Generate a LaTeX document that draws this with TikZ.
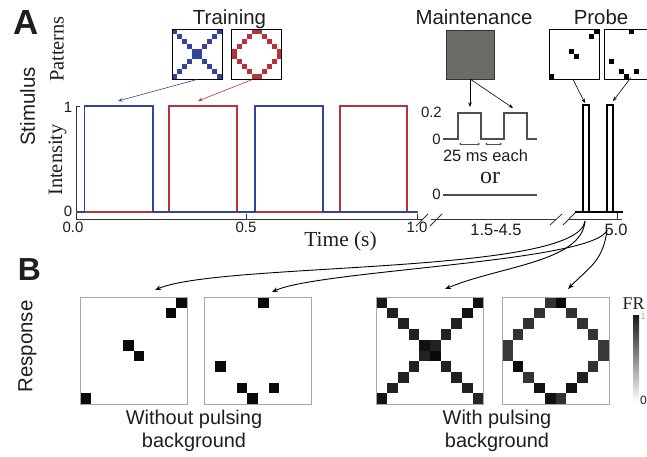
\documentclass[tikz,border=0pt]{standalone}
\usepackage{fontspec}
\setmainfont{Liberation Serif}
\setsansfont{Liberation Sans}
\usetikzlibrary{arrows.meta,calc}
\definecolor{pblue}{HTML}{34449A}
\definecolor{pred}{HTML}{B8323A}
\definecolor{txt}{HTML}{1E1E1E}
\definecolor{mgray}{HTML}{6B6C68}
\definecolor{wave}{HTML}{505050}
\definecolor{axc}{HTML}{333333}
\definecolor{orng}{HTML}{D9A066}
\def\Xlist{0/0,9/0,1/1,8/1,2/2,7/2,3/3,6/3,4/4,5/4,4/5,5/5,3/6,6/6,2/7,7/7,1/8,8/8,0/9,9/9}
\def\Dlist{4/0,5/0,3/1,6/1,2/2,7/2,1/3,8/3,0/4,9/4,0/5,9/5,1/6,8/6,2/7,7/7,3/8,6/8,4/9,5/9}
\newcommand\drawcells[4]{\foreach \pcx/\pcy in #4 {\fill[#3] ($(#1.north west)+(\pcx*#2,\pcy*#2)$) rectangle ++(#2,#2);}}
\newcommand\shadecells[3]{\foreach \pcx/\pcy/\pcs in {#3} {\fill[black!\pcs] ($(#1.north west)+(\pcx*#2,\pcy*#2)$) rectangle ++(#2,#2);}}
\tikzset{
 lab/.style={font=\sffamily\fontsize{20.5}{24}\selectfont, text=txt, inner sep=0},
 slab/.style={font=\rmfamily\fontsize{20.5}{24}\selectfont, text=txt, inner sep=0},
 ticklab/.style={font=\sffamily\fontsize{15}{18}\selectfont, text=txt, inner sep=0},
 patbox/.style={draw=black, line width=0.9bp, minimum width=50bp, minimum height=50bp, inner sep=0, outer sep=0, fill=white},
 gridbox/.style={draw=gray!70, line width=0.7bp, minimum size=107bp, inner sep=0, outer sep=0, fill=white},
 arr/.style={-{Stealth[length=4.5bp,width=3.5bp]}, line width=0.6bp},
 carr/.style={-{Stealth[length=6bp,width=4.5bp]}, line width=0.9bp, black},
 dblarr/.style={{Stealth[length=2.5bp,width=2.5bp]}-{Stealth[length=2.5bp,width=2.5bp]}, line width=0.5bp, wave},
 axisline/.style={draw=axc, line width=0.8bp},
 pulse/.style={line width=1.5bp, line join=miter},
}
\begin{document}
\begin{tikzpicture}[x=1bp,y=-1bp]
\useasboundingbox (0,0) rectangle (647,457);
\clip (0,0) rectangle (647,457);
% panel letters
\node[font=\sffamily\bfseries\fontsize{35}{40}\selectfont, inner sep=0, text=txt] (lA) at (26.5,22.5) {A};
\node[font=\sffamily\bfseries\fontsize{32}{36}\selectfont, inner sep=0, text=txt] (lB) at (29.5,269.5) {B};
% headings
\node[lab, anchor=base] (train) at (229.5,25) {Training};
\node[lab, anchor=base] (maintl) at (474,25) {Maintenance};
\node[lab, anchor=base] (probel) at (601,25) {Probe};
\node[slab, rotate=90] (patl) at (57,49) {Patterns};
\node[lab, rotate=90] (stim) at (27.5,106.5) {Stimulus};
\node[slab, rotate=90] (intl) at (57.5,160) {Intensity};
\node[lab, rotate=90] (resp) at (27.5,346.5) {Response};
% training patterns
\node[patbox] (tX) at (197,54.5) {};
\drawcells{tX}{5}{pblue}{\Xlist}
\node[patbox] (tD) at (256.5,54.5) {};
\drawcells{tD}{5}{pred}{\Dlist}
\draw[line width=0.9bp] (tX.north west) rectangle (tX.south east);
\draw[line width=0.9bp] (tD.north west) rectangle (tD.south east);
% maintenance box
\node[draw=axc, fill=mgray, line width=0.9bp, minimum width=48bp, minimum height=49bp, inner sep=0, outer sep=0] (mbox) at (470,54.5) {};
% probe patterns
\node[patbox] (pr1) at (574,54.5) {};
\drawcells{pr1}{5}{black}{{9/0,8/1,4/4,5/5,0/9}}
\node[patbox] (pr2) at (629,54.5) {};
\drawcells{pr2}{5}{black}{{5/0,1/6,3/8,4/9,6/8}}
% arrows from patterns
\coordinate (bT) at (118,101);
\coordinate (rT) at (198,101);
\draw[arr, pblue] (tX.south) -- (bT);
\draw[arr, pred] ([xshift=-4bp]tD.south) -- (rT);
\coordinate (m1) at (470,107);
\coordinate (m2) at (513,108);
\draw[arr] (mbox.south) -- (m1);
\draw[arr] (mbox.south) -- (m2);
\coordinate (q1) at (585,103);
\coordinate (q2) at (613,101);
\draw[arr] ([xshift=-1bp]pr1.south) -- (q1);
\draw[arr] ([xshift=2bp,yshift=2bp]pr2.south) -- (q2);
% axes
\draw[axisline] (80,106) -- (76,106) -- (76,219.5) -- (423,219.5);
\draw[axisline] (246.5,219.5) -- (246.5,214);
\draw[axisline] (417,219.5) -- (417,214);
\draw[axisline] (431,219.5) -- (556,219.5);
\draw[axisline] (568,219.5) -- (622,219.5);
\draw[axisline] (617,219.5) -- (617,213);
\draw[axisline] (416,226) -- (428,214);
\draw[axisline] (430,226) -- (442,214);
\draw[axisline] (550,225) -- (562,214);
\draw[axisline] (563,225) -- (575,213);
% pulses
\draw[pulse, pred] (76,212) -- (169,212) -- (169,106) -- (237,106) -- (237,212) -- (340,212) -- (340,106) -- (407,106) -- (407,212) -- (418,212);
\draw[pulse, pblue] (76,212) -- (84.5,212) -- (84.5,106) -- (153,106) -- (153,212) -- (255,212) -- (255,106) -- (323,106) -- (323,212) -- (418,212);
% tick labels
\node[ticklab, anchor=base east] (y1) at (72.5,113) {1};
\node[ticklab, anchor=base east] (y0) at (72.5,217) {0};
\node[ticklab, anchor=base] (x00) at (73,233) {0.0};
\node[ticklab, anchor=base] (x05) at (246,233) {0.5};
\node[ticklab, anchor=base] (x10) at (417,233) {1.0};
\node[font=\rmfamily\fontsize{21.5}{24}\selectfont, text=txt, inner sep=0, anchor=base] (tlab) at (340.5,247) {Time (s)};
\node[ticklab, font=\sffamily\fontsize{16.5}{18}\selectfont, anchor=base] (x15) at (496,236) {1.5-4.5};
\node[ticklab, font=\sffamily\fontsize{16.5}{18}\selectfont, anchor=base] (x50) at (616,236) {5.0};
% maintenance waveform
\draw[wave, line width=1.2bp] (443,139) -- (458,139) -- (458,113) -- (481,113) -- (481,139) -- (504,139) -- (504,113) -- (527,113) -- (527,139) -- (537,139);
\node[ticklab, anchor=base east] (w02) at (442,118) {0.2};
\node[ticklab, anchor=base east] (w0) at (441,145) {0};
\draw[dblarr] (459,144) -- (480,144);
\draw[dblarr] (485,144) -- (502,144);
\node[font=\sffamily\fontsize{16.5}{18}\selectfont, text=txt, inner sep=0, anchor=base] (ms) at (485.5,162) {25 ms each};
\node[font=\rmfamily\fontsize{24}{26}\selectfont, text=txt, inner sep=0, anchor=base] (orl) at (490,184) {or};
\node[ticklab, anchor=base east] (w0b) at (441,200) {0};
\draw[wave, line width=1.2bp] (443,195) -- (537,195);
% probe bars
\draw[black, line width=1.3bp] (583,212) -- (583,105) -- (589,105) -- (589,212);
\draw[black, line width=1.3bp] (607,212) -- (607,105) -- (613,105) -- (613,212);
\draw[black, line width=2.2bp] (575,212) -- (623,212);
% response grids
\node[gridbox] (r1) at (133.5,350.5) {};
\drawcells{r1}{10.7}{black!96}{{9/0,8/1,4/4,5/5,0/9}}
\node[gridbox] (r2) at (258,350.5) {};
\drawcells{r2}{10.7}{black!96}{{5/0,1/6,3/8,4/9,6/8}}
\node[gridbox] (r3) at (430,350.5) {};
\shadecells{r3}{10.7}{0/0/90,9/0/93,1/1/87,8/1/93,2/2/87,7/2/87,3/3/87,6/3/87,4/4/93,5/4/87,4/5/87,5/5/96,3/6/87,6/6/87,2/7/87,7/7/87,1/8/87,8/8/87,0/9/92,9/9/85}
\node[gridbox] (r4) at (555.5,350.5) {};
\shadecells{r4}{10.7}{4/0/80,5/0/96,3/1/80,6/1/80,2/2/80,7/2/80,1/3/80,8/3/80,0/4/78,9/4/78,0/5/78,9/5/78,1/6/95,8/6/80,2/7/80,7/7/87,3/8/93,6/8/93,4/9/93,5/9/80}
\foreach \g in {r1,r2,r3,r4} {\draw[gray!70, line width=0.7bp] (\g.north west) rectangle (\g.south east);}
% captions
\node[lab, font=\sffamily\fontsize{20}{23.5}\selectfont, align=center] (cap1) at (194,431) {Without pulsing\\background};
\node[lab, font=\sffamily\fontsize{20}{23.5}\selectfont, align=center] (cap2) at (497,431) {With pulsing\\background};
% curved arrows
\coordinate (p1s) at (585,221);
\coordinate (p2s) at (607,230);
\coordinate (r1t) at (155,290);
\coordinate (r2t) at (272,292);
\coordinate (r3t) at (445,289);
\coordinate (r4t) at (568,289);
\draw[carr] (p1s) .. controls (578,275) and (220,262) .. (r1t);
\draw[carr] (p2s) .. controls (595,262) and (320,270) .. (r2t);
\draw[carr] (p1s) .. controls (582,262) and (500,266) .. (r3t);
\draw[carr] (p2s) .. controls (603,262) and (588,268) .. (r4t);
% colour bar
\shade[top color=black!90, bottom color=white] (633,315) rectangle (639,402);
\node[font=\rmfamily\fontsize{18}{20}\selectfont, text=txt, inner sep=0, anchor=base west] (fr) at (622.5,310) {FR};
\node[font=\sffamily\fontsize{9}{10}\selectfont, text=orng, inner sep=0, anchor=base west] (cb1) at (640.5,320) {1};
\node[font=\sffamily\fontsize{12}{14}\selectfont, text=txt, inner sep=0, anchor=base west] (cb0) at (640,404) {0};
\end{tikzpicture}
\end{document}
